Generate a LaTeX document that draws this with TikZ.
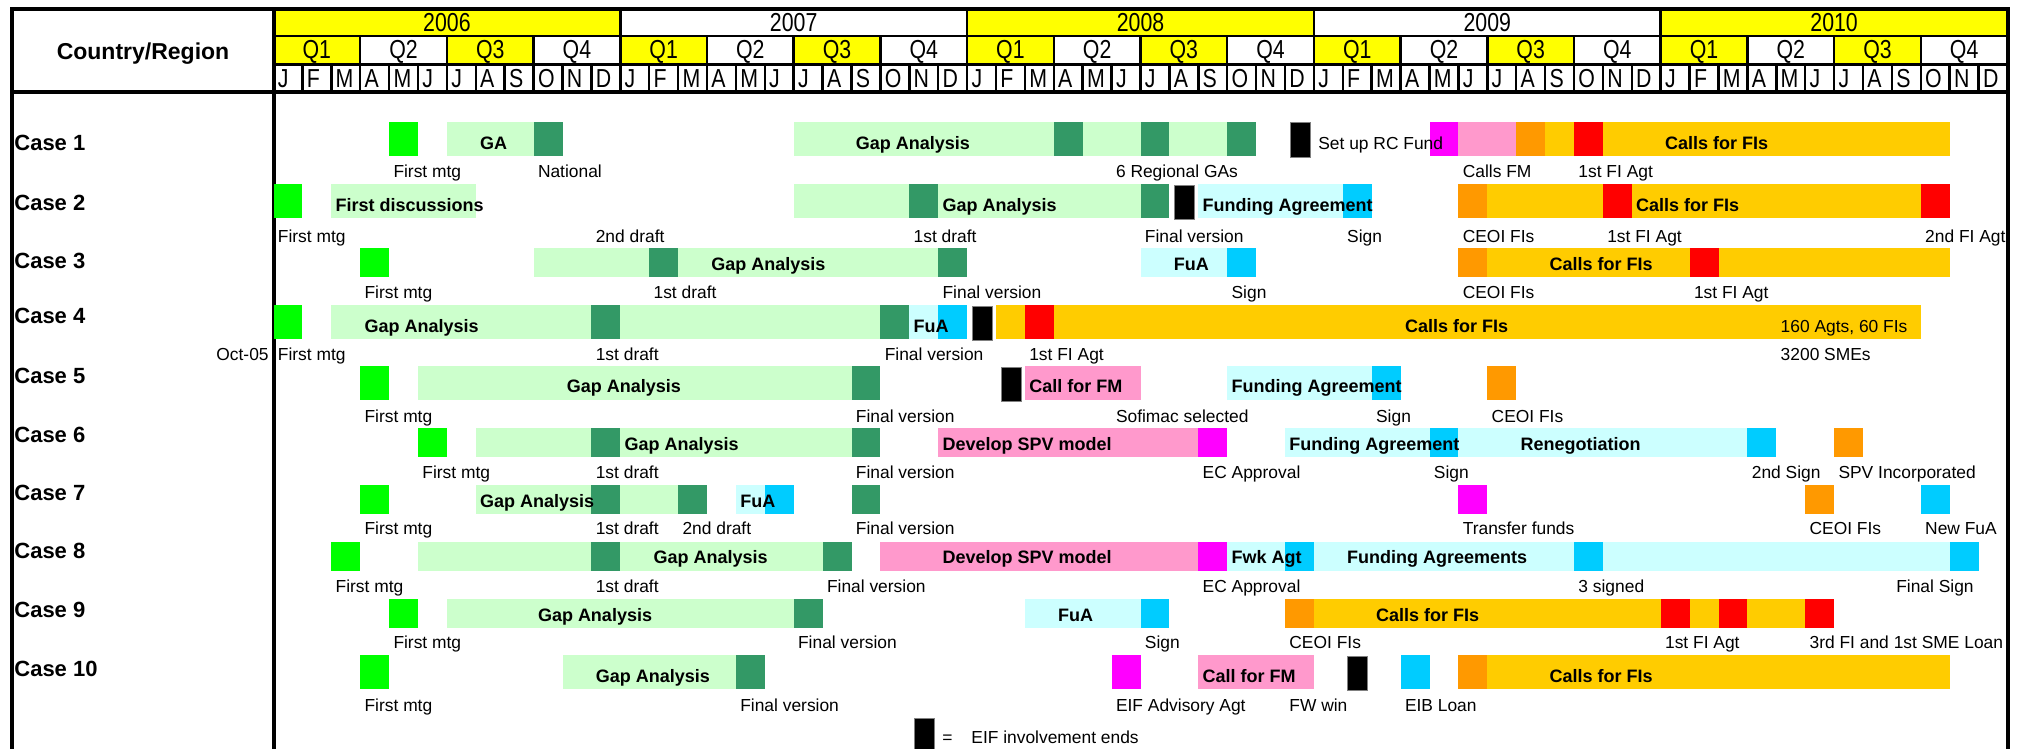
\documentclass[tikz,border=0pt]{standalone}
\usepackage{fontspec}
\setmainfont{Liberation Sans}
\newfontfamily\narrowhdr[FakeStretch=0.82]{Liberation Sans}
\definecolor{bgreen}{HTML}{00FF00}
\definecolor{lgreen}{HTML}{CCFFCC}
\definecolor{dgreen}{HTML}{339966}
\definecolor{lcyan}{HTML}{CCFFFF}
\definecolor{cyanb}{HTML}{00CCFF}
\definecolor{pinkb}{HTML}{FF99CC}
\definecolor{magb}{HTML}{FF00FF}
\definecolor{orangeb}{HTML}{FF9900}
\definecolor{goldb}{HTML}{FFCC00}
\definecolor{redb}{HTML}{FF0000}
\definecolor{hdryellow}{HTML}{FFFF00}
\newcommand\gseg[3]{\fill[#1] ({273.5+28.9*(#2)},\rT) rectangle ({273.5+28.9*(#3)},\rB);}
\newcommand\gblk[1]{\filldraw[blackbox] ({273.5+28.9*(#1)+5},{\rT+1}) rectangle ({273.5+28.9*(#1)+25},{\rB+1});}
\newcommand\glab[3]{\node[lbl] (#1) at ({273.5+28.9*(#2)+4},\rL) {#3};}
\newcommand\gbl[3]{\node[blbl] (#1) at ({273.5+28.9*(#2)+4},\rX) {#3};}
\newcommand\gbr[3]{\node[lbl] (#1) at ({273.5+28.9*(#2)+4},\rX) {#3};}
\newcommand\rowset[6]{\def\rT{#1}\def\rB{#2}\def\rX{#3}\def\rL{#4}\node[rowlbl] (case#5) at (14,#6) {Case #5};}
\begin{document}
\begin{tikzpicture}[x=0.5pt,y=-0.5pt,
  lbl/.style={anchor=base west,inner sep=0pt,font=\fontsize{8.7}{10}\selectfont},
  blbl/.style={anchor=base west,inner sep=0pt,font=\fontsize{9}{10}\selectfont\bfseries},
  rowlbl/.style={anchor=base west,inner sep=0pt,font=\fontsize{11}{12}\selectfont\bfseries},
  hdr/.style={anchor=base,inner sep=0pt,font=\narrowhdr\fontsize{13}{14}\selectfont},
  mhdr/.style={anchor=base west,inner sep=0pt,font=\narrowhdr\fontsize{13}{14}\selectfont},
  blackbox/.style={fill=black,draw=gray,line width=0.5pt},
  gridthin/.style={line width=1.25pt},
  gridthick/.style={line width=2pt}]
\useasboundingbox (0,0) rectangle (2017,749);
% header fills
\foreach \i in {0,2,4} \fill[hdryellow] ({273.5+28.9*12*\i},9) rectangle ({273.5+28.9*12*(\i+1)},36);
\foreach \q in {0,2,...,18} \fill[hdryellow] ({273.5+28.9*3*\q},36) rectangle ({273.5+28.9*3*(\q+1)},64.5);
% header texts
\node[anchor=base,inner sep=0pt,font=\fontsize{11.5}{12}\selectfont\bfseries] (hdrcr) at (143,60) {Country/Region};
\foreach \yv [count=\i from 0] in {2006,2007,2008,2009,2010}
  \node[hdr] (yr\yv) at ({273.5+28.9*(12*\i+6)},31.7) {\yv};
\foreach \i in {0,...,4} \foreach \q in {1,...,4}
  \node[hdr] (q\i-\q) at ({273.5+28.9*(12*\i+3*\q-1.5)},58.3) {Q\q};
\foreach \i in {0,...,4} \foreach \L [count=\k from 0] in {J,F,M,A,M,J,J,A,S,O,N,D}
  \node[mhdr] (mo\i-\k) at ({273.5+28.9*(12*\i+\k)+4},87.3) {\L};
% grid
\draw[gridthin] (273.5,36) -- (2008,36);
\draw[gridthin] (273.5,64.5) -- (2008,64.5);
\foreach \i in {1,...,4} \draw[gridthin] ({273.5+28.9*12*\i},9) -- ++(0,27);
\foreach \q in {1,...,19} \draw[gridthin] ({273.5+28.9*3*\q},36) -- ++(0,28.5);
\foreach \k in {1,...,59} \draw[gridthin] ({273.5+28.9*\k},64.5) -- ++(0,27.5);
\draw[gridthick] (12,770) -- (12,9) -- (2008,9) -- (2008,770);
\draw[gridthick] (273.5,9) -- (273.5,770);
\draw[gridthick] (12,92) -- (2008,92);
% Case 1
\rowset{122}{156}{149}{177}{1}{150}
\gseg{bgreen}{4}{5}
\gseg{lgreen}{6}{9}\gseg{dgreen}{9}{10}
\gseg{lgreen}{18}{27}\gseg{dgreen}{27}{28}\gseg{lgreen}{28}{30}\gseg{dgreen}{30}{31}\gseg{lgreen}{31}{33}\gseg{dgreen}{33}{34}
\gblk{35}
\gseg{magb}{40}{41}\gseg{pinkb}{41}{43}\gseg{orangeb}{43}{44}\gseg{goldb}{44}{45}\gseg{redb}{45}{46}\gseg{goldb}{46}{58}
\gbl{r1ga}{7}{GA}\gbl{r1gap}{20}{Gap Analysis}\gbr{r1rc}{36}{Set up RC Fund}\gbl{r1calls}{48}{Calls for FIs}
\glab{r1fm}{4}{First mtg}\glab{r1nat}{9}{National}\glab{r1reg}{29}{6 Regional GAs}\glab{r1cfm}{41}{Calls FM}\glab{r1fi}{45}{1st FI Agt}
% Case 2
\rowset{184}{218}{211}{242}{2}{210}
\gseg{bgreen}{0}{1}\gseg{lgreen}{2}{7}
\gseg{lgreen}{18}{22}\gseg{dgreen}{22}{23}\gseg{lgreen}{23}{30}\gseg{dgreen}{30}{31}\gblk{31}
\gseg{lcyan}{32}{37}\gseg{cyanb}{37}{38}
\gseg{orangeb}{41}{42}\gseg{goldb}{42}{46}\gseg{redb}{46}{47}\gseg{goldb}{47}{57}\gseg{redb}{57}{58}
\gbl{r2fd}{2}{First discussions}\gbl{r2gap}{23}{Gap Analysis}\gbl{r2fa}{32}{Funding Agreement}\gbl{r2calls}{47}{Calls for FIs}
\glab{r2fm}{0}{First mtg}\glab{r2d2}{11}{2nd draft}\glab{r2d1}{22}{1st draft}\glab{r2fv}{30}{Final version}\glab{r2sg}{37}{Sign}\glab{r2ce}{41}{CEOI FIs}\glab{r2fi}{46}{1st FI Agt}\glab{r2fi2}{57}{2nd FI Agt}
% Case 3
\rowset{248}{277}{270}{298}{3}{268}
\gseg{bgreen}{3}{4}\gseg{lgreen}{9}{13}\gseg{dgreen}{13}{14}\gseg{lgreen}{14}{23}\gseg{dgreen}{23}{24}
\gseg{lcyan}{30}{33}\gseg{cyanb}{33}{34}
\gseg{orangeb}{41}{42}\gseg{goldb}{42}{49}\gseg{redb}{49}{50}\gseg{goldb}{50}{58}
\gbl{r3gap}{15}{Gap Analysis}\gbl{r3fua}{31}{FuA}\gbl{r3calls}{44}{Calls for FIs}
\glab{r3fm}{3}{First mtg}\glab{r3d1}{13}{1st draft}\glab{r3fv}{23}{Final version}\glab{r3sg}{33}{Sign}\glab{r3ce}{41}{CEOI FIs}\glab{r3fi}{49}{1st FI Agt}
% Case 4
\rowset{305}{339}{332}{360}{4}{323}
\gseg{bgreen}{0}{1}\gseg{lgreen}{2}{11}\gseg{dgreen}{11}{12}\gseg{lgreen}{12}{21}\gseg{dgreen}{21}{22}
\gseg{lcyan}{22}{23}\gseg{cyanb}{23}{24}\gblk{24}
\gseg{goldb}{25}{26}\gseg{redb}{26}{27}\gseg{goldb}{27}{57}
\gbl{r4gap}{3}{Gap Analysis}\gbl{r4fua}{22}{FuA}\gbl{r4calls}{39}{Calls for FIs}\gbr{r4agt}{52}{160 Agts, 60 FIs}
\node[lbl,anchor=base east] (r4oct) at (269,\rL) {Oct-05};
\glab{r4fm}{0}{First mtg}\glab{r4d1}{11}{1st draft}\glab{r4fv}{21}{Final version}\glab{r4fi}{26}{1st FI Agt}\glab{r4sme}{52}{3200 SMEs}
% Case 5
\rowset{366}{400}{392}{422}{5}{383}
\gseg{bgreen}{3}{4}\gseg{lgreen}{5}{20}\gseg{dgreen}{20}{21}\gblk{25}
\gseg{pinkb}{26}{30}\gseg{lcyan}{33}{38}\gseg{cyanb}{38}{39}\gseg{orangeb}{42}{43}
\gbl{r5gap}{10}{Gap Analysis}\gbl{r5cfm}{26}{Call for FM}\gbl{r5fa}{33}{Funding Agreement}
\glab{r5fm}{3}{First mtg}\glab{r5fv}{20}{Final version}\glab{r5sof}{29}{Sofimac selected}\glab{r5sg}{38}{Sign}\glab{r5ce}{42}{CEOI FIs}
% Case 6
\rowset{428}{457}{450}{478}{6}{442}
\gseg{bgreen}{5}{6}\gseg{lgreen}{7}{11}\gseg{dgreen}{11}{12}\gseg{lgreen}{12}{20}\gseg{dgreen}{20}{21}
\gseg{pinkb}{23}{32}\gseg{magb}{32}{33}
\gseg{lcyan}{35}{40}\gseg{cyanb}{40}{41}\gseg{lcyan}{41}{51}\gseg{cyanb}{51}{52}\gseg{orangeb}{54}{55}
\gbl{r6gap}{12}{Gap Analysis}\gbl{r6spv}{23}{Develop SPV model}\gbl{r6fa}{35}{Funding Agreement}\gbl{r6ren}{43}{Renegotiation}
\glab{r6fm}{5}{First mtg}\glab{r6d1}{11}{1st draft}\glab{r6fv}{20}{Final version}\glab{r6ec}{32}{EC Approval}\glab{r6sg}{40}{Sign}\glab{r6sg2}{51}{2nd Sign}\glab{r6inc}{54}{SPV Incorporated}
% Case 7
\rowset{485}{514}{507}{534}{7}{500}
\gseg{bgreen}{3}{4}\gseg{lgreen}{7}{11}\gseg{dgreen}{11}{12}\gseg{lgreen}{12}{14}\gseg{dgreen}{14}{15}
\gseg{lcyan}{16}{17}\gseg{cyanb}{17}{18}\gseg{dgreen}{20}{21}
\gseg{magb}{41}{42}\gseg{orangeb}{53}{54}\gseg{cyanb}{57}{58}
\gbl{r7gap}{7}{Gap Analysis}\gbl{r7fua}{16}{FuA}
\glab{r7fm}{3}{First mtg}\glab{r7d1}{11}{1st draft}\glab{r7d2}{14}{2nd draft}\glab{r7fv}{20}{Final version}\glab{r7tf}{41}{Transfer funds}\glab{r7ce}{53}{CEOI FIs}\glab{r7nf}{57}{New FuA}
% Case 8
\rowset{542}{571}{563}{592}{8}{558}
\gseg{bgreen}{2}{3}\gseg{lgreen}{5}{11}\gseg{dgreen}{11}{12}\gseg{lgreen}{12}{19}\gseg{dgreen}{19}{20}
\gseg{pinkb}{21}{32}\gseg{magb}{32}{33}
\gseg{lcyan}{33}{35}\gseg{cyanb}{35}{36}\gseg{lcyan}{36}{45}\gseg{cyanb}{45}{46}\gseg{lcyan}{46}{58}\gseg{cyanb}{58}{59}
\gbl{r8gap}{13}{Gap Analysis}\gbl{r8spv}{23}{Develop SPV model}\gbl{r8fwk}{33}{Fwk Agt}\gbl{r8fas}{37}{Funding Agreements}
\glab{r8fm}{2}{First mtg}\glab{r8d1}{11}{1st draft}\glab{r8fv}{19}{Final version}\glab{r8ec}{32}{EC Approval}\glab{r8s3}{45}{3 signed}\glab{r8fs}{56}{Final Sign}
% Case 9
\rowset{599}{628}{621}{648}{9}{617}
\gseg{bgreen}{4}{5}\gseg{lgreen}{6}{18}\gseg{dgreen}{18}{19}
\gseg{lcyan}{26}{30}\gseg{cyanb}{30}{31}
\gseg{orangeb}{35}{36}\gseg{goldb}{36}{48}\gseg{redb}{48}{49}\gseg{goldb}{49}{50}\gseg{redb}{50}{51}\gseg{goldb}{51}{53}\gseg{redb}{53}{54}
\gbl{r9gap}{9}{Gap Analysis}\gbl{r9fua}{27}{FuA}\gbl{r9calls}{38}{Calls for FIs}
\glab{r9fm}{4}{First mtg}\glab{r9fv}{18}{Final version}\glab{r9sg}{30}{Sign}\glab{r9ce}{35}{CEOI FIs}\glab{r9fi}{48}{1st FI Agt}\glab{r9sme}{53}{3rd FI and 1st SME Loan}
% Case 10
\rowset{655}{689}{682}{711}{10}{676}
\gseg{bgreen}{3}{4}\gseg{lgreen}{10}{16}\gseg{dgreen}{16}{17}
\gseg{magb}{29}{30}\gseg{pinkb}{32}{36}\gblk{37}\gseg{cyanb}{39}{40}
\gseg{orangeb}{41}{42}\gseg{goldb}{42}{58}
\gbl{r10gap}{11}{Gap Analysis}\gbl{r10cfm}{32}{Call for FM}\gbl{r10calls}{44}{Calls for FIs}
\glab{r10fm}{3}{First mtg}\glab{r10fv}{16}{Final version}\glab{r10eif}{29}{EIF Advisory Agt}\glab{r10fw}{35}{FW win}\glab{r10eib}{39}{EIB Loan}
% legend
\def\rT{717}\def\rB{752}
\gblk{22}
\node[lbl] (legeq) at (942,743) {=};
\node[lbl] (legtxt) at (971,743) {EIF involvement ends};
\end{tikzpicture}
\end{document}
